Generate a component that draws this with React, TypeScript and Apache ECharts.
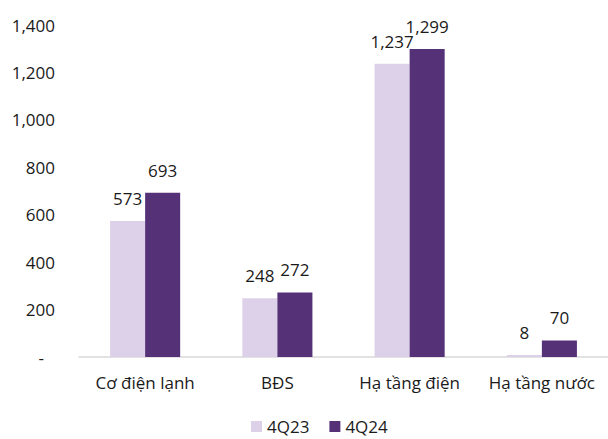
import React, { useEffect, useRef } from "react";
import * as echarts from "echarts";

const categories = ["Cơ điện lạnh", "BĐS", "Hạ tầng điện", "Hạ tầng nước"];
const series4Q23 = [573, 248, 1237, 8];
const series4Q24 = [693, 272, 1299, 70];
const seriesNames = ["4Q23", "4Q24"];

const FONT = "Open Sans";
const FS = 17;
const fmt = (v: number) => v.toLocaleString("en-US");

export default function App() {
  const ref = useRef<HTMLDivElement>(null);
  useEffect(() => {
    if (!ref.current) return;
    const chart = echarts.init(ref.current, null, { renderer: "svg" });
    const labelStyle = {
      show: true,
      position: "top" as const,
      distance: 14,
      color: "#1a1a1a",
      fontFamily: FONT,
      fontSize: FS,
      formatter: (p: any) => fmt(p.value),
    };
    chart.setOption({
      animation: false,
      textStyle: { fontFamily: FONT },
      grid: { left: 79, right: 0, top: 25, bottom: 82, containLabel: false },
      legend: {
        bottom: -1,
        left: 246,
        itemWidth: 11,
        itemHeight: 11,
        itemGap: 20,
        icon: "rect",
        textStyle: { fontFamily: FONT, fontSize: FS, color: "#1a1a1a" },
        data: seriesNames,
      },
      xAxis: {
        type: "category",
        data: categories,
        axisLine: { show: true, lineStyle: { color: "#D9D9D9", width: 1.5 } },
        axisTick: { show: false },
        axisLabel: { interval: 0, fontFamily: FONT, fontSize: FS, color: "#1a1a1a", margin: 17 },
      },
      yAxis: {
        type: "value",
        min: 0,
        max: 1400,
        interval: 200,
        splitLine: { show: false },
        axisLine: { show: false },
        axisTick: { show: false },
        axisLabel: {
          fontFamily: FONT,
          fontSize: FS,
          color: "#1a1a1a",
          margin: 24,
          formatter: (v: number) => (v === 0 ? "{d|-}" : fmt(v)),
          rich: { d: { fontFamily: FONT, fontSize: FS, color: "#1a1a1a", padding: [0, 11, 0, 0] } },
        },
      },
      series: [
        {
          name: seriesNames[0],
          type: "bar",
          data: series4Q23,
          barGap: "0%",
          barCategoryGap: "47%",
          itemStyle: { color: "#DDD1E9" },
          label: labelStyle,
        },
        {
          name: seriesNames[1],
          type: "bar",
          data: series4Q24,
          barGap: "0%",
          barCategoryGap: "47%",
          itemStyle: { color: "#553278" },
          label: labelStyle,
        },
      ],
    });
    return () => chart.dispose();
  }, []);
  return (
    <div
      ref={ref}
      style={{ position: "fixed", left: 0, top: 0, width: 608, height: 439, background: "#fff" }}
    />
  );
}
